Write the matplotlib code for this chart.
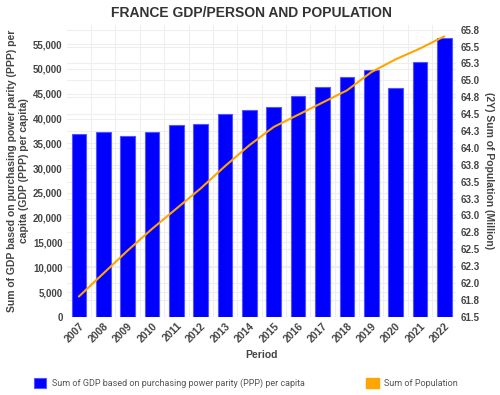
"""France GDP per person (bars) and population (line), 2007-2022."""

import matplotlib
matplotlib.use('Agg')
import matplotlib.pyplot as plt
from matplotlib.patches import Rectangle
from matplotlib.ticker import FuncFormatter

plt.rcParams['font.family'] = ['Liberation Sans', 'DejaVu Sans']

# Data
periods = ['2007', '2008', '2009', '2010', '2011', '2012', '2013', '2014',
           '2015', '2016', '2017', '2018', '2019', '2020', '2021', '2022']
gdp_ppp = [36800, 37350, 36450, 37350, 38750, 38950, 41000, 41650,
           42300, 44450, 46350, 48300, 49800, 46250, 51350, 56250]
population = [61.80, 62.14, 62.48, 62.80, 63.10, 63.40, 63.73, 64.04,
              64.31, 64.49, 64.67, 64.85, 65.12, 65.31, 65.47, 65.65]
gdp_ticks = list(range(0, 55001, 5000))
pop_ticks = [61.5 + 0.25 * i for i in range(18)]
pop_labels = ['61.5', '61.8', '62.0', '62.3', '62.5', '62.8', '63.0', '63.3', '63.5',
              '63.8', '64.0', '64.3', '64.5', '64.8', '65.0', '65.3', '65.5', '65.8']

text_col = '#444444'
grid_col = '#eeeeee'
rect = [0.1334, 0.198, 0.7796, 0.739]

fig = plt.figure(figsize=(5, 3.95), dpi=100)
# stacking: right-axis grid at the back, bars in the middle, line on top
ax = fig.add_axes(rect)
ax2 = ax.twinx()
ax3 = ax.twinx()
ax2.set_zorder(0)
ax.set_zorder(1)
ax3.set_zorder(2)
ax.patch.set_visible(False)
ax3.patch.set_visible(False)

x = list(range(len(periods)))
bars = ax.bar(x, gdp_ppp, width=0.6, color='#0000ff', edgecolor='#5555ff',
              linewidth=0.8, zorder=2,
              label='Sum of GDP based on purchasing power parity (PPP) per capita')
ax3.plot(x, population, color='#ffa500', linewidth=1.5, solid_capstyle='round')

ax.set_xlim(-0.5, len(periods) - 0.5)
ax.set_ylim(0, 58900)
ax2.set_ylim(61.5, 65.82)
ax3.set_ylim(61.5, 65.82)
ax3.set_yticks([])
ax3.set_xticks([])

ax.set_xticks(x)
ax.set_xticklabels(periods, rotation=45, ha='right', rotation_mode='anchor',
                   fontsize=7.5, fontweight='bold', color=text_col)
ax.set_xticks([i + 0.5 for i in x[:-1]], minor=True)
ax.set_yticks(gdp_ticks)
ax.yaxis.set_major_formatter(FuncFormatter(lambda v, p: f'{int(v):,}'))
for lab in ax.get_yticklabels():
    lab.set_fontsize(7)
    lab.set_fontweight('bold')
    lab.set_color(text_col)
ax2.set_yticks(pop_ticks)
ax2.set_yticklabels(pop_labels, fontsize=7, fontweight='bold', color=text_col)

ax.tick_params(axis='both', which='both', length=0, pad=3)
ax2.tick_params(axis='both', which='both', length=0, pad=3)

ax.grid(False)
ax.xaxis.grid(True, which='minor', color=grid_col, linewidth=0.8)
ax.yaxis.grid(True, which='major', color=grid_col, linewidth=0.8)
ax2.yaxis.grid(True, which='major', color=grid_col, linewidth=0.8)
ax.set_axisbelow(True)

for a in (ax, ax2, ax3):
    for s in a.spines.values():
        s.set_visible(False)

ax.set_xlabel('Period', fontsize=7.5, fontweight='bold', color=text_col, labelpad=4)
ax.set_ylabel('Sum of GDP based on purchasing power parity (PPP) per\ncapita (GDP (PPP) per capita)',
              fontsize=7.5, fontweight='bold', color=text_col, labelpad=3)
ax2.set_ylabel('(2Y) Sum of Population (Million)', rotation=270, fontsize=7.5,
               fontweight='bold', color=text_col, labelpad=10)

fig.suptitle('FRANCE GDP/PERSON AND POPULATION', x=0.502, y=0.985, fontsize=10,
             fontweight='bold', color='#333333')

leg_kw = dict(loc='center left', frameon=False, handlelength=1.4,
              handleheight=1.4, handletextpad=0.6, labelcolor='#555555',
              borderaxespad=0, prop={'family': 'Roboto', 'size': 6.5})
fig.legend(handles=[bars], bbox_to_anchor=(0.06, 0.03), **leg_kw)
pop_patch = Rectangle((0, 0), 1, 1, color='#ffa500', label='Sum of Population')
fig.legend(handles=[pop_patch], bbox_to_anchor=(0.725, 0.03), **leg_kw)

fig.savefig('out.png', dpi=100)
